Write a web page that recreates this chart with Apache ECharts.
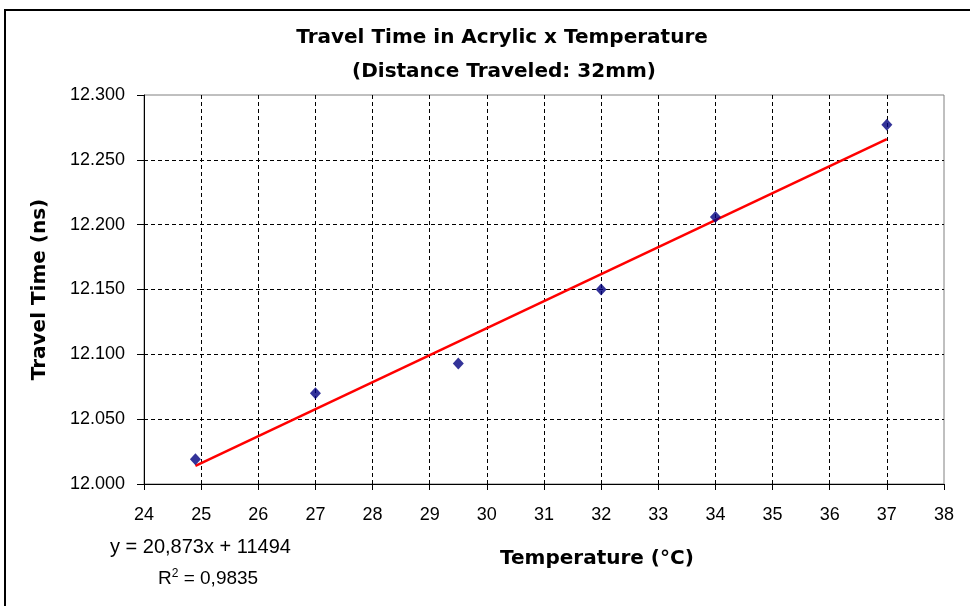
<!DOCTYPE html>
<html>
<head>
<meta charset="utf-8">
<script src="https://cdn.jsdelivr.net/npm/echarts@6/dist/echarts.min.js"></script>
<style>
  html, body { margin: 0; padding: 0; background: #fff; }
  #chart { width: 970px; height: 606px; }
</style>
</head>
<body>
<div id="chart"></div>
<script>
const temps = [24.9, 27, 29.5, 32, 34, 37]
const times = [12.019, 12.070, 12.093, 12.150, 12.206, 12.277]
// trend line endpoints
const trendX = [24.9, 37]
const trendY = [12.014, 12.266]
const yTickLabels = ['12.000', '12.050', '12.100', '12.150', '12.200', '12.250', '12.300']
const xTickLabels = ['24', '25', '26', '27', '28', '29', '30', '31', '32', '33', '34', '35', '36', '37', '38']

const font = "'Liberation Sans', Arial, sans-serif"
const boldFont = "'DejaVu Sans', Verdana, sans-serif"

const chart = echarts.init(document.getElementById('chart'))

chart.setOption({
  animation: false,
  title: [{
    text: 'Travel Time in Acrylic x Temperature',
    left: 497,
    top: 23,
    textAlign: 'center',
    textStyle: { fontFamily: boldFont, fontSize: 20, fontWeight: 'bold', color: '#000' }
  }, {
    text: '(Distance Traveled: 32mm)',
    left: 499,
    top: 57,
    textAlign: 'center',
    textStyle: { fontFamily: boldFont, fontSize: 20, fontWeight: 'bold', color: '#000' }
  }],
  grid: {
    left: 144,
    right: 26,
    top: 95,
    bottom: 122,
    show: true,
    borderColor: '#808080',
    borderWidth: 1
  },
  xAxis: {
    type: 'value',
    min: 24,
    max: 38,
    interval: 1,
    axisLine: { lineStyle: { color: '#000', width: 1 } },
    axisTick: { show: true, length: 6, lineStyle: { color: '#000' } },
    axisLabel: {
      margin: 22,
      fontFamily: font,
      fontSize: 18,
      color: '#000',
      formatter: (v) => xTickLabels[Math.round(v - 24)]
    },
    splitLine: {
      show: true,
      showMinLine: false,
      showMaxLine: false,
      lineStyle: { color: '#000', type: [4, 3], width: 1 }
    }
  },
  yAxis: {
    type: 'value',
    min: 12.0,
    max: 12.3,
    interval: 0.05,
    name: 'Travel Time (ns)',
    nameLocation: 'middle',
    nameGap: 94,
    nameTextStyle: { fontFamily: boldFont, fontSize: 20, fontWeight: 'bold', color: '#000' },
    axisLine: { show: true, lineStyle: { color: '#000', width: 1 } },
    axisTick: { show: true, length: 7, lineStyle: { color: '#000' } },
    axisLabel: {
      margin: 19,
      fontFamily: font,
      fontSize: 18,
      color: '#000',
      formatter: (v) => yTickLabels[Math.round((v - 12) / 0.05)]
    },
    splitLine: {
      show: true,
      showMinLine: false,
      showMaxLine: false,
      lineStyle: { color: '#000', type: [4, 3], width: 1 }
    }
  },
  series: [{
    name: 'trend',
    type: 'line',
    data: trendX.map((x, i) => [x, trendY[i]]),
    showSymbol: false,
    lineStyle: { color: '#ff0000', width: 2.5 },
    z: 3
  }, {
    name: 'data',
    type: 'scatter',
    data: temps.map((t, i) => [t, times[i]]),
    symbol: 'diamond',
    symbolSize: [11, 12],
    itemStyle: { color: '#000080' },
    z: 4
  }],
  graphic: [{
    type: 'rect',
    shape: { x: 5, y: 10, width: 990, height: 620 },
    style: { fill: 'none', stroke: '#000', lineWidth: 2 },
    silent: true
  }, {
    type: 'text',
    left: 500,
    top: 549,
    style: {
      text: 'Temperature (°C)',
      font: "bold 20px 'DejaVu Sans', Verdana, sans-serif",
      fill: '#000'
    }
  }, {
    type: 'text',
    left: 110,
    top: 537,
    style: {
      text: 'y = 20,873x + 11494',
      font: "20px 'Liberation Sans', Arial, sans-serif",
      fill: '#000'
    }
  }, {
    type: 'text',
    left: 158,
    top: 568,
    style: {
      text: 'R{sup|2} = 0,9835',
      font: "19px 'Liberation Sans', Arial, sans-serif",
      fill: '#000',
      rich: {
        sup: { fontSize: 12, verticalAlign: 'top', padding: [0, 0, 9, 0], fontFamily: font, fill: '#000' }
      }
    }
  }]
})
</script>
</body>
</html>
